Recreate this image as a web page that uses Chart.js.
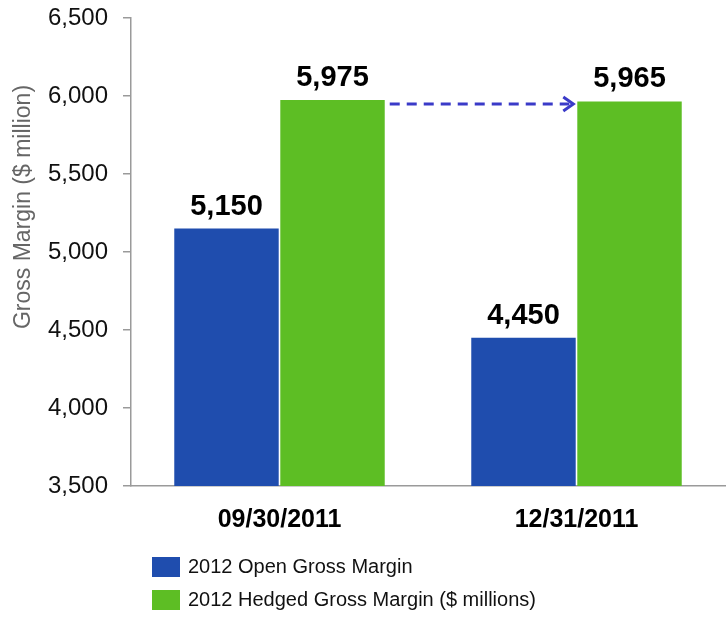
<!DOCTYPE html>
<html>
<head>
<meta charset="utf-8">
<script src="https://cdn.jsdelivr.net/npm/chart.js@4/dist/chart.umd.min.js"></script>
<style>
  html, body { margin: 0; padding: 0; background: #fff; }
  #wrap { width: 728px; height: 617px; }
</style>
</head>
<body>
<div id="wrap"><canvas id="myChart" width="728" height="617"></canvas></div>
<script>
const labels = ['09/30/2011', '12/31/2011'];
const openMargin = [5150, 4450];
const hedgedMargin = [5975, 5965];
const seriesNames = ['2012 Open Gross Margin', '2012 Hedged Gross Margin ($ millions)'];
const yTicks = [3500, 4000, 4500, 5000, 5500, 6000, 6500];

const BLUE = '#1F4DAE';
const GREEN = '#5DBE24';
const FONT = '"Liberation Sans", Arial, sans-serif';

// value labels above the bars
const valueLabels = {
    id: 'valueLabels',
    afterDatasetsDraw(chart) {
        const ctx = chart.ctx;
        ctx.save();
        ctx.font = 'bold 29px ' + FONT;
        ctx.fillStyle = '#000';
        ctx.textAlign = 'center';
        ctx.textBaseline = 'alphabetic';
        chart.data.datasets.forEach((ds, i) => {
            chart.getDatasetMeta(i).data.forEach((bar, j) => {
                ctx.fillText(ds.data[j].toLocaleString('en-US'), bar.x, bar.y - 14);
            });
        });
        ctx.restore();
    }
};

// dashed arrow between the two hedged bars
const arrow = {
    id: 'arrow',
    afterDatasetsDraw(chart) {
        const bars = chart.getDatasetMeta(1).data;
        const a = bars[0], b = bars[1];
        const x1 = a.x + a.width / 2 + 5;
        const x2 = b.x - b.width / 2 - 4;
        const y = a.y + 4;
        const ctx = chart.ctx;
        ctx.save();
        ctx.strokeStyle = '#3A3AC8';
        ctx.lineWidth = 3;
        ctx.setLineDash([10, 7]);
        ctx.beginPath();
        ctx.moveTo(x1, y);
        ctx.lineTo(x2 - 4, y);
        ctx.stroke();
        ctx.setLineDash([]);
        ctx.beginPath();
        ctx.moveTo(x2 - 10, y - 7);
        ctx.lineTo(x2, y);
        ctx.lineTo(x2 - 10, y + 7);
        ctx.stroke();
        ctx.restore();
    }
};

// y title and vertical legend
const extras = {
    id: 'extras',
    afterDraw(chart) {
        const ctx = chart.ctx;
        const area = chart.chartArea;
        ctx.save();
        ctx.translate(24, (area.top + area.bottom) / 2 - 45);
        ctx.rotate(-Math.PI / 2);
        ctx.font = '23px ' + FONT;
        ctx.fillStyle = '#666';
        ctx.textAlign = 'center';
        ctx.textBaseline = 'middle';
        ctx.fillText('Gross Margin ($ million)', 0, 0);
        ctx.restore();

        ctx.save();
        ctx.font = '20px ' + FONT;
        ctx.textBaseline = 'middle';
        chart.data.datasets.forEach((ds, i) => {
            const cy = 567 + i * 33;
            ctx.fillStyle = ds.backgroundColor;
            ctx.fillRect(152, cy - 10, 28, 20);
            ctx.fillStyle = '#111';
            ctx.fillText(ds.label, 188, cy);
        });
        ctx.restore();
    }
};

const data = {
    labels: labels,
    datasets: [{
        label: seriesNames[0],
        data: openMargin,
        backgroundColor: BLUE,
    }, {
        label: seriesNames[1],
        data: hedgedMargin,
        backgroundColor: GREEN,
    }]
};

const options = {
    responsive: false,
    animation: false,
    layout: { padding: { top: 18, right: 3, left: 0, bottom: 0 } },
    datasets: {
        bar: { categoryPercentage: 0.714, barPercentage: 0.985 }
    },
    plugins: {
        legend: { display: false },
        tooltip: { enabled: false },
    },
    scales: {
        x: {
            grid: { display: false, drawTicks: false },
            border: { display: true, color: '#9a9a9a', width: 1.5 },
            ticks: {
                color: '#000',
                font: { family: FONT, size: 25, weight: 'bold' },
                padding: 19,
            },
            afterFit(scale) { scale.height = 131; }
        },
        y: {
            min: 3500,
            max: 6500,
            afterBuildTicks(scale) { scale.ticks = yTicks.map(v => ({ value: v })); },
            grid: { drawOnChartArea: false, drawTicks: true, tickLength: 8, color: '#9a9a9a', lineWidth: 1.5 },
            border: { display: true, color: '#9a9a9a', width: 1.5 },
            ticks: {
                color: '#111',
                font: { family: FONT, size: 24 },
                padding: 15,
                callback: v => v.toLocaleString('en-US'),
            },
            afterFit(scale) {
                scale.width = 131;
                scale.paddingTop = 0;
                scale.paddingBottom = 0;
            }
        }
    }
};

const myChart = new Chart(document.getElementById('myChart'), {
    type: 'bar',
    data: data,
    options: options,
    plugins: [valueLabels, arrow, extras],
});
</script>
</body>
</html>
